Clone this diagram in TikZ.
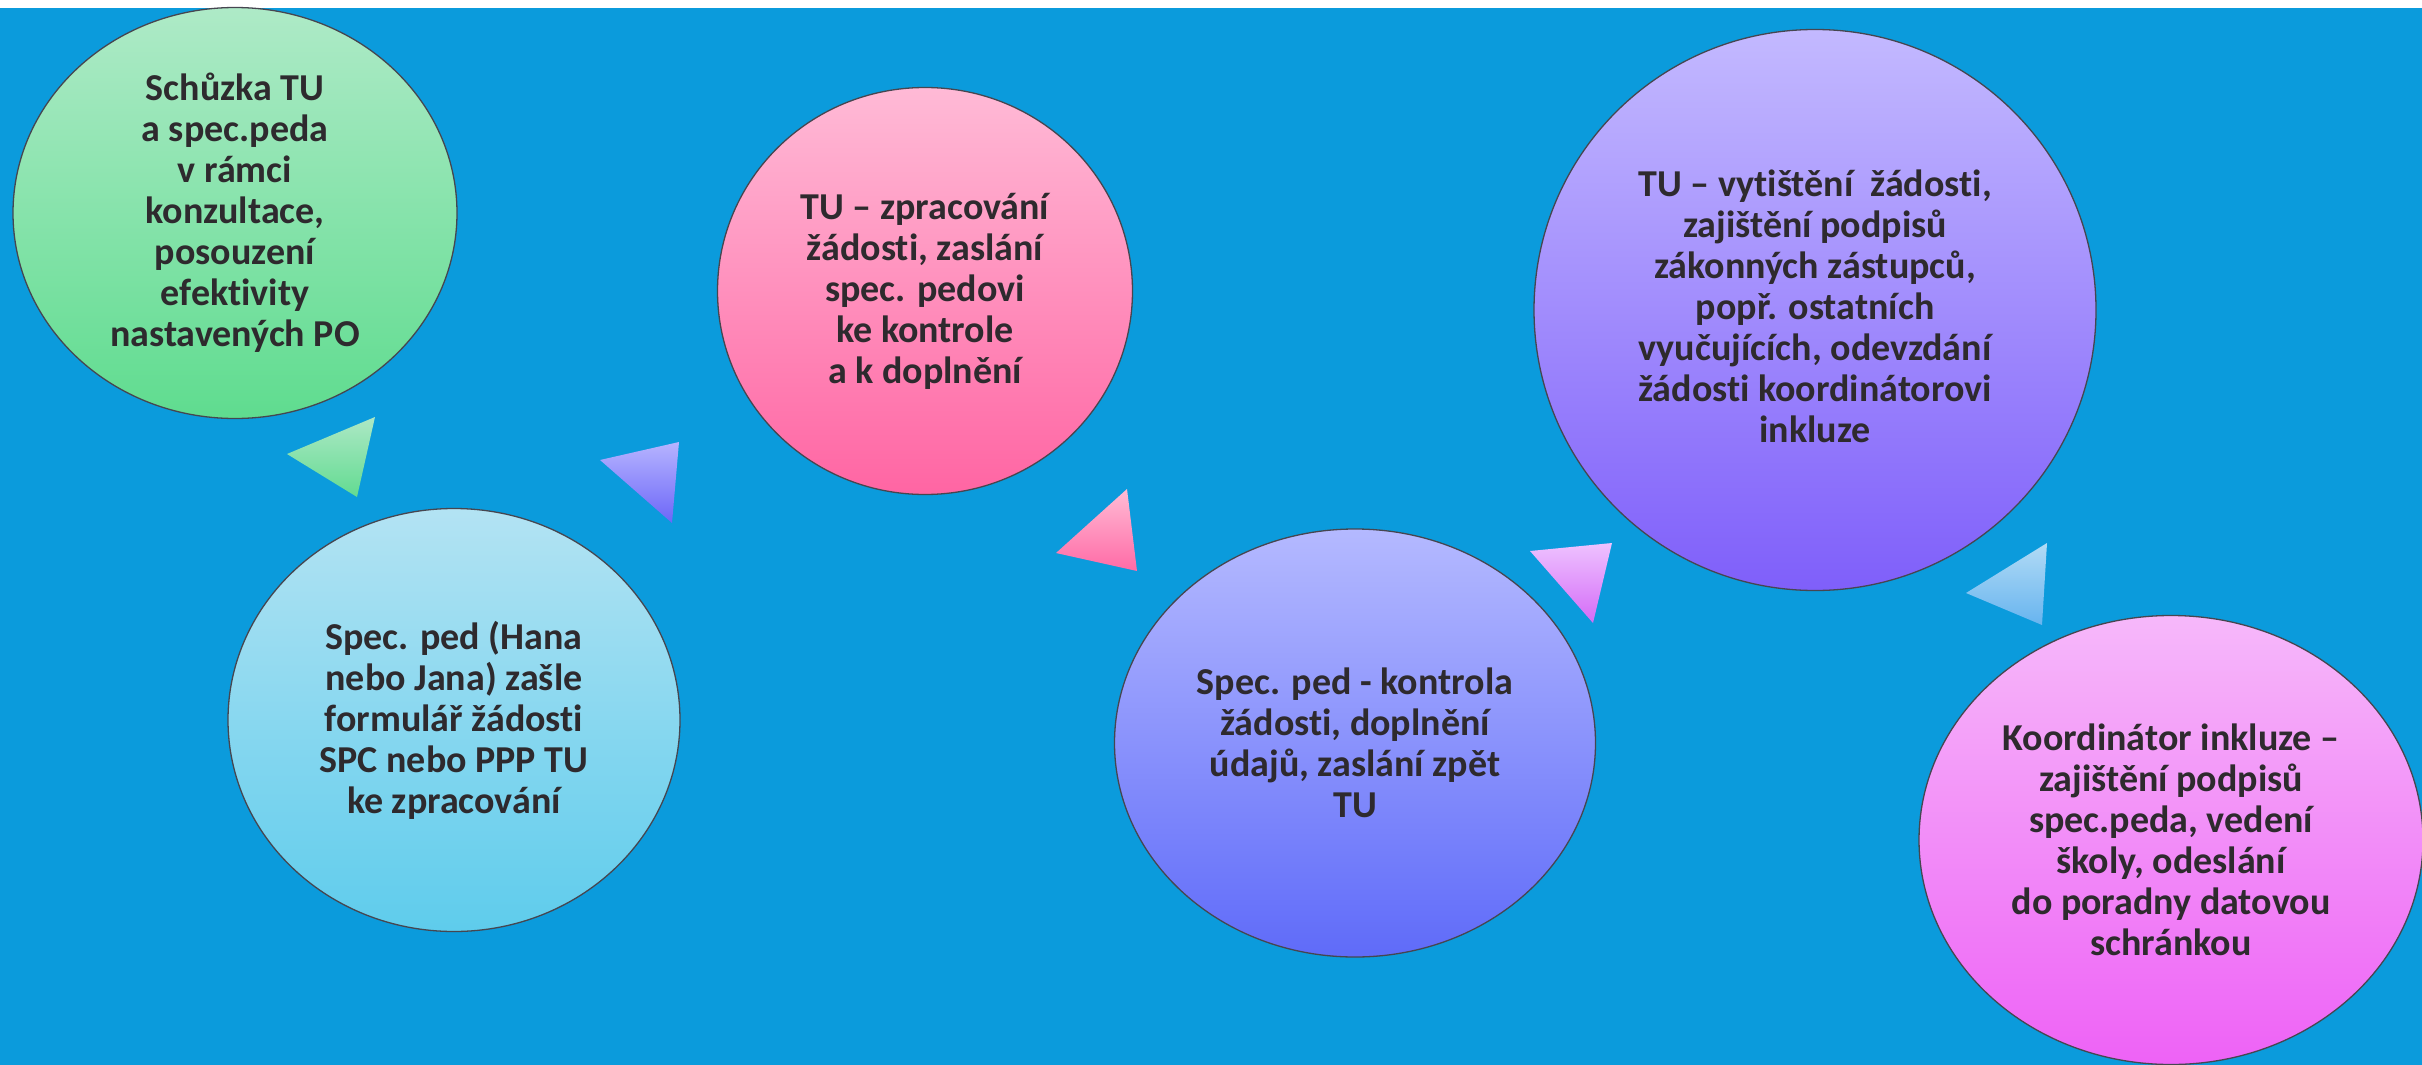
\documentclass[tikz,border=0pt]{standalone}
\usepackage{fontspec}
\setmainfont{Carlito}[Ligatures=NoCommon]
\usetikzlibrary{shapes.geometric}
\definecolor{bgblue}{RGB}{11,155,220}
\definecolor{txtc}{RGB}{46,42,46}
\definecolor{edgec}{RGB}{70,70,80}
\definecolor{gTop}{HTML}{AEEAC7}\definecolor{gBot}{HTML}{5FDC8F}
\definecolor{lbTop}{HTML}{B3E3F3}\definecolor{lbBot}{HTML}{5ECCEC}
\definecolor{pkTop}{HTML}{FFBAD6}\definecolor{pkBot}{HTML}{FF65A3}
\definecolor{puTop}{HTML}{C3B9FF}\definecolor{puBot}{HTML}{7F5FFA}
\definecolor{pwTop}{HTML}{B4B9FF}\definecolor{pwBot}{HTML}{5F6BF9}
\definecolor{mgTop}{HTML}{F6B8FA}\definecolor{mgBot}{HTML}{EE62F6}
\definecolor{t1Top}{HTML}{ADE8C5}\definecolor{t1Bot}{HTML}{62DB91}
\definecolor{t2Top}{HTML}{B6B4FF}\definecolor{t2Bot}{HTML}{6C66F8}
\definecolor{t3Top}{HTML}{FFBCD5}\definecolor{t3Bot}{HTML}{FF6AA6}
\definecolor{t4Top}{HTML}{EEC2FF}\definecolor{t4Bot}{HTML}{D46BF7}
\definecolor{t5Top}{HTML}{B2DBF5}\definecolor{t5Bot}{HTML}{67B4EF}
\begin{document}
\begin{tikzpicture}[x=1pt,y=-1pt,
  bubble/.style={ellipse, draw=edgec, line width=1.3pt, inner sep=0pt, outer sep=0pt},
  btext/.style={align=center, text=txtc, inner sep=0pt,
    font=\fontsize{38}{41}\selectfont\bfseries},
  tri/.style={draw=none}]
\useasboundingbox (0,0) rectangle (2422,1065);
\fill[white] (0,0) rectangle (2422,8);
\fill[bgblue] (0,8) rectangle (2422,1065);

% circles
\node[bubble, minimum width=444pt, minimum height=411pt, top color=gTop, bottom color=gBot] (c1) at (235,213) {};
\node[bubble, minimum width=452pt, minimum height=423pt, top color=lbTop, bottom color=lbBot] (c2) at (454,720) {};
\node[bubble, minimum width=415pt, minimum height=407pt, top color=pkTop, bottom color=pkBot] (c3) at (925,291) {};
\node[bubble, minimum width=481pt, minimum height=428pt, top color=pwTop, bottom color=pwBot] (c4) at (1355,743) {};
\node[bubble, minimum width=562pt, minimum height=561pt, top color=puTop, bottom color=puBot] (c5) at (1815,310) {};
\node[bubble, minimum width=504pt, minimum height=449pt, top color=mgTop, bottom color=mgBot] (c6) at (2171,840) {};

% texts
\node[btext] (x1) at (c1) {Schůzka TU\\a spec.peda\\v rámci\\konzultace,\\posouzení\\efektivity\\nastavených PO};
\node[btext] (x2) at (c2) {Spec. ped (Hana\\nebo Jana) zašle\\formulář žádosti\\SPC nebo PPP TU\\ke zpracování};
\node[btext] (x3) at (c3) {TU – zpracování\\žádosti, zaslání\\spec. pedovi\\ke kontrole\\a k doplnění};
\node[btext] (x4) at (c4) {Spec. ped - kontrola\\žádosti, doplnění\\údajů, zaslání zpět\\TU};
\node[btext] (x5) at ([yshift=4pt]c5) {TU – vytištění\ \ žádosti,\\zajištění podpisů\\zákonných zástupců,\\popř. ostatních\\vyučujících, odevzdání\\žádosti koordinátorovi\\inkluze};
\node[btext] (x6) at (c6) {Koordinátor inkluze –\\zajištění podpisů\\spec.peda, vedení\\školy, odeslání\\do poradny datovou\\schránkou};

% triangle arrows
\shade[tri, top color=t1Top, bottom color=t1Bot] (287,454) -- (375,417) -- (357,497) -- cycle;
\shade[tri, top color=t2Top, bottom color=t2Bot] (600,460) -- (679,442) -- (672,523) -- cycle;
\shade[tri, top color=t3Top, bottom color=t3Bot] (1056,553) -- (1127,489) -- (1137,571) -- cycle;
\shade[tri, top color=t4Top, bottom color=t4Bot] (1530,551) -- (1612,543) -- (1593,623) -- cycle;
\shade[tri, top color=t5Top, bottom color=t5Bot] (1966,593) -- (2047,543) -- (2042,625) -- cycle;
\end{tikzpicture}
\end{document}
